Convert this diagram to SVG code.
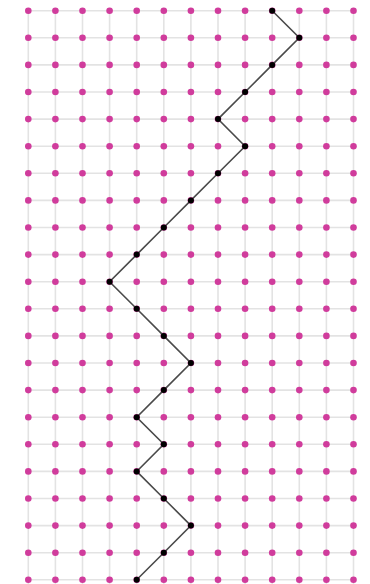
<svg xmlns="http://www.w3.org/2000/svg" xmlns:xlink="http://www.w3.org/1999/xlink" width="370" height="584" viewBox="0 0 370 584">
<style>
.grid line{stroke:#e3e3e3;stroke-width:1.6}
.pd{fill:#d03c9c}
.bd{fill:#000}
.edge{fill:none;stroke:#4a4a4a;stroke-width:1.6;stroke-linejoin:miter}
</style>
<defs>
<g id="row">
<circle class="pd" cx="28.3" cy="0" r="3.3"/><circle class="pd" cx="55.4" cy="0" r="3.3"/><circle class="pd" cx="82.5" cy="0" r="3.3"/><circle class="pd" cx="109.6" cy="0" r="3.3"/><circle class="pd" cx="136.7" cy="0" r="3.3"/><circle class="pd" cx="163.8" cy="0" r="3.3"/><circle class="pd" cx="190.9" cy="0" r="3.3"/><circle class="pd" cx="218" cy="0" r="3.3"/><circle class="pd" cx="245.1" cy="0" r="3.3"/><circle class="pd" cx="272.2" cy="0" r="3.3"/><circle class="pd" cx="299.3" cy="0" r="3.3"/><circle class="pd" cx="326.4" cy="0" r="3.3"/><circle class="pd" cx="353.5" cy="0" r="3.3"/>
</g>
</defs>
<rect width="370" height="584" fill="#fff"/>
<g class="grid">
<line x1="28.3" y1="10.7" x2="28.3" y2="584"/><line x1="55.4" y1="10.7" x2="55.4" y2="584"/><line x1="82.5" y1="10.7" x2="82.5" y2="584"/><line x1="109.6" y1="10.7" x2="109.6" y2="584"/><line x1="136.7" y1="10.7" x2="136.7" y2="584"/><line x1="163.8" y1="10.7" x2="163.8" y2="584"/><line x1="190.9" y1="10.7" x2="190.9" y2="584"/><line x1="218" y1="10.7" x2="218" y2="584"/><line x1="245.1" y1="10.7" x2="245.1" y2="584"/><line x1="272.2" y1="10.7" x2="272.2" y2="584"/><line x1="299.3" y1="10.7" x2="299.3" y2="584"/><line x1="326.4" y1="10.7" x2="326.4" y2="584"/><line x1="353.5" y1="10.7" x2="353.5" y2="584"/>
<line x1="28.3" y1="10.7" x2="353.5" y2="10.7"/><line x1="28.3" y1="37.8" x2="353.5" y2="37.8"/><line x1="28.3" y1="64.9" x2="353.5" y2="64.9"/><line x1="28.3" y1="92" x2="353.5" y2="92"/><line x1="28.3" y1="119.1" x2="353.5" y2="119.1"/><line x1="28.3" y1="146.2" x2="353.5" y2="146.2"/><line x1="28.3" y1="173.3" x2="353.5" y2="173.3"/><line x1="28.3" y1="200.4" x2="353.5" y2="200.4"/><line x1="28.3" y1="227.5" x2="353.5" y2="227.5"/><line x1="28.3" y1="254.6" x2="353.5" y2="254.6"/><line x1="28.3" y1="281.7" x2="353.5" y2="281.7"/><line x1="28.3" y1="308.8" x2="353.5" y2="308.8"/><line x1="28.3" y1="335.9" x2="353.5" y2="335.9"/><line x1="28.3" y1="363" x2="353.5" y2="363"/><line x1="28.3" y1="390.1" x2="353.5" y2="390.1"/><line x1="28.3" y1="417.2" x2="353.5" y2="417.2"/><line x1="28.3" y1="444.3" x2="353.5" y2="444.3"/><line x1="28.3" y1="471.4" x2="353.5" y2="471.4"/><line x1="28.3" y1="498.5" x2="353.5" y2="498.5"/><line x1="28.3" y1="525.6" x2="353.5" y2="525.6"/><line x1="28.3" y1="552.7" x2="353.5" y2="552.7"/><line x1="28.3" y1="579.8" x2="353.5" y2="579.8"/>
</g>
<g id="grid-dots">
<use xlink:href="#row" href="#row" y="10.7"/><use xlink:href="#row" href="#row" y="37.8"/><use xlink:href="#row" href="#row" y="64.9"/><use xlink:href="#row" href="#row" y="92"/><use xlink:href="#row" href="#row" y="119.1"/><use xlink:href="#row" href="#row" y="146.2"/><use xlink:href="#row" href="#row" y="173.3"/><use xlink:href="#row" href="#row" y="200.4"/><use xlink:href="#row" href="#row" y="227.5"/><use xlink:href="#row" href="#row" y="254.6"/><use xlink:href="#row" href="#row" y="281.7"/><use xlink:href="#row" href="#row" y="308.8"/><use xlink:href="#row" href="#row" y="335.9"/><use xlink:href="#row" href="#row" y="363"/><use xlink:href="#row" href="#row" y="390.1"/><use xlink:href="#row" href="#row" y="417.2"/><use xlink:href="#row" href="#row" y="444.3"/><use xlink:href="#row" href="#row" y="471.4"/><use xlink:href="#row" href="#row" y="498.5"/><use xlink:href="#row" href="#row" y="525.6"/><use xlink:href="#row" href="#row" y="552.7"/><use xlink:href="#row" href="#row" y="579.8"/>
</g>
<g id="connectors">
<polyline class="edge" points="272.2,10.7 299.3,37.8 272.2,64.9 245.1,92 218,119.1 245.1,146.2 218,173.3 190.9,200.4 163.8,227.5 136.7,254.6 109.6,281.7 136.7,308.8 163.8,335.9 190.9,363 163.8,390.1 136.7,417.2 163.8,444.3 136.7,471.4 163.8,498.5 190.9,525.6 163.8,552.7 136.7,579.8"/>
</g>
<g id="n0"><circle class="bd" cx="272.2" cy="10.7" r="3"/></g>
<g id="n1"><circle class="bd" cx="299.3" cy="37.8" r="3"/></g>
<g id="n2"><circle class="bd" cx="272.2" cy="64.9" r="3"/></g>
<g id="n3"><circle class="bd" cx="245.1" cy="92" r="3"/></g>
<g id="n4"><circle class="bd" cx="218" cy="119.1" r="3"/></g>
<g id="n5"><circle class="bd" cx="245.1" cy="146.2" r="3"/></g>
<g id="n6"><circle class="bd" cx="218" cy="173.3" r="3"/></g>
<g id="n7"><circle class="bd" cx="190.9" cy="200.4" r="3"/></g>
<g id="n8"><circle class="bd" cx="163.8" cy="227.5" r="3"/></g>
<g id="n9"><circle class="bd" cx="136.7" cy="254.6" r="3"/></g>
<g id="n10"><circle class="bd" cx="109.6" cy="281.7" r="3"/></g>
<g id="n11"><circle class="bd" cx="136.7" cy="308.8" r="3"/></g>
<g id="n12"><circle class="bd" cx="163.8" cy="335.9" r="3"/></g>
<g id="n13"><circle class="bd" cx="190.9" cy="363" r="3"/></g>
<g id="n14"><circle class="bd" cx="163.8" cy="390.1" r="3"/></g>
<g id="n15"><circle class="bd" cx="136.7" cy="417.2" r="3"/></g>
<g id="n16"><circle class="bd" cx="163.8" cy="444.3" r="3"/></g>
<g id="n17"><circle class="bd" cx="136.7" cy="471.4" r="3"/></g>
<g id="n18"><circle class="bd" cx="163.8" cy="498.5" r="3"/></g>
<g id="n19"><circle class="bd" cx="190.9" cy="525.6" r="3"/></g>
<g id="n20"><circle class="bd" cx="163.8" cy="552.7" r="3"/></g>
<g id="n21"><circle class="bd" cx="136.7" cy="579.8" r="3"/></g>
</svg>
